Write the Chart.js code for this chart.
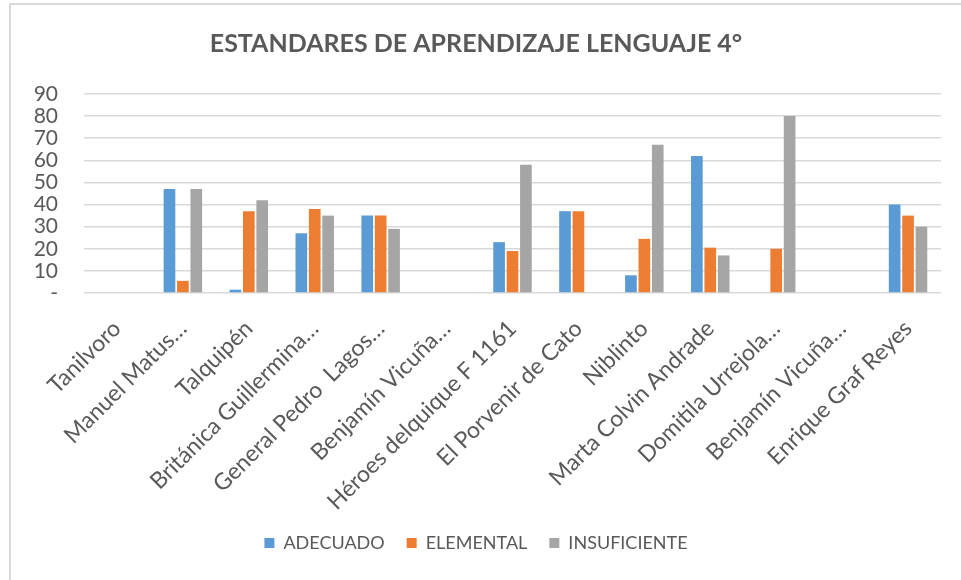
<!DOCTYPE html>
<html lang="es">
<head>
  <meta charset="UTF-8">
  <title>Estandares de aprendizaje lenguaje 4°</title>
  <script src="https://cdn.jsdelivr.net/npm/chart.js"></script>
  <style>
    html, body { margin: 0; padding: 0; background: #fff; }
    #frame {
      position: absolute; left: 9px; top: 3px;
      width: 952px; height: 577px;
      border-left: 2px solid #d9d9d9; border-top: 2px solid #d9d9d9;
      box-sizing: border-box;
    }
    #wrap { position: absolute; left: 0; top: 0; width: 950px; height: 575px; }
  </style>
</head>
<body>
  <div id="frame"><div id="wrap"><canvas id="chart"></canvas></div></div>

  <script>
    const schools = [
      'Tanilvoro', 'Manuel Matus…', 'Talquipén', 'Británica Guillermina…',
      'General Pedro  Lagos…', 'Benjamín Vicuña…', 'Héroes delquique F 1161',
      'El Porvenir de Cato', 'Niblinto', 'Marta Colvin Andrade',
      'Domitila Urrejola…', 'Benjamín Vicuña…', 'Enrique Graf Reyes'
    ];
    const adecuado    = [0, 47, 1.5, 27, 35, 0, 23, 37, 8, 62, 0, 0, 40];
    const elemental   = [0, 5.5, 37, 38, 35, 0, 19, 37, 24.5, 20.5, 20, 0, 35];
    const insuficiente = [0, 47, 42, 35, 29, 0, 58, 0, 67, 17, 80, 0, 30];
    const yTicks = [0, 10, 20, 30, 40, 50, 60, 70, 80, 90];

    const FONT = 'Lato, "Open Sans", sans-serif';
    const GREY_TEXT = '#595959';

    new Chart(document.getElementById('chart'), {
      type: 'bar',
      data: {
        labels: schools,
        datasets: [
          { label: 'ADECUADO', data: adecuado, backgroundColor: '#5B9BD5' },
          { label: 'ELEMENTAL', data: elemental, backgroundColor: '#ED7D31' },
          { label: 'INSUFICIENTE', data: insuficiente, backgroundColor: '#A5A5A5' }
        ]
      },
      options: {
        responsive: true,
        maintainAspectRatio: false,
        animation: false,
        datasets: { bar: { categoryPercentage: 0.61, barPercentage: 0.87 } },
        layout: { padding: { left: 0, right: 20, top: 0, bottom: 18 } },
        plugins: {
          title: {
            display: true,
            text: 'ESTANDARES DE APRENDIZAJE LENGUAJE 4°',
            color: GREY_TEXT,
            font: { family: FONT, size: 25, weight: 'bold' },
            padding: { top: 24, bottom: 35 }
          },
          legend: {
            position: 'bottom',
            labels: {
              color: GREY_TEXT,
              font: { family: FONT, size: 18 },
              boxWidth: 10, boxHeight: 10,
              padding: 22
            }
          },
          tooltip: { enabled: true }
        },
        scales: {
          x: {
            grid: { display: false },
            border: { display: false },
            afterFit: (scale) => { scale.height = 219; },
            ticks: {
              color: GREY_TEXT,
              font: { family: FONT, size: 23 },
              minRotation: 45, maxRotation: 45,
              autoSkip: false,
              padding: 14
            }
          },
          y: {
            min: 0, max: 90,
            afterBuildTicks: (scale) => { scale.ticks = yTicks.map(v => ({ value: v })); },
            afterFit: (scale) => { scale.width = 73; },
            grid: { color: '#d9d9d9', lineWidth: 1.5, drawTicks: false },
            border: { display: false },
            ticks: {
              color: GREY_TEXT,
              font: { family: FONT, size: 21 },
              autoSkip: false,
              padding: 26,
              callback: (v) => v === 0 ? '-' : v
            }
          }
        }
      }
    });
  </script>
</body>
</html>
